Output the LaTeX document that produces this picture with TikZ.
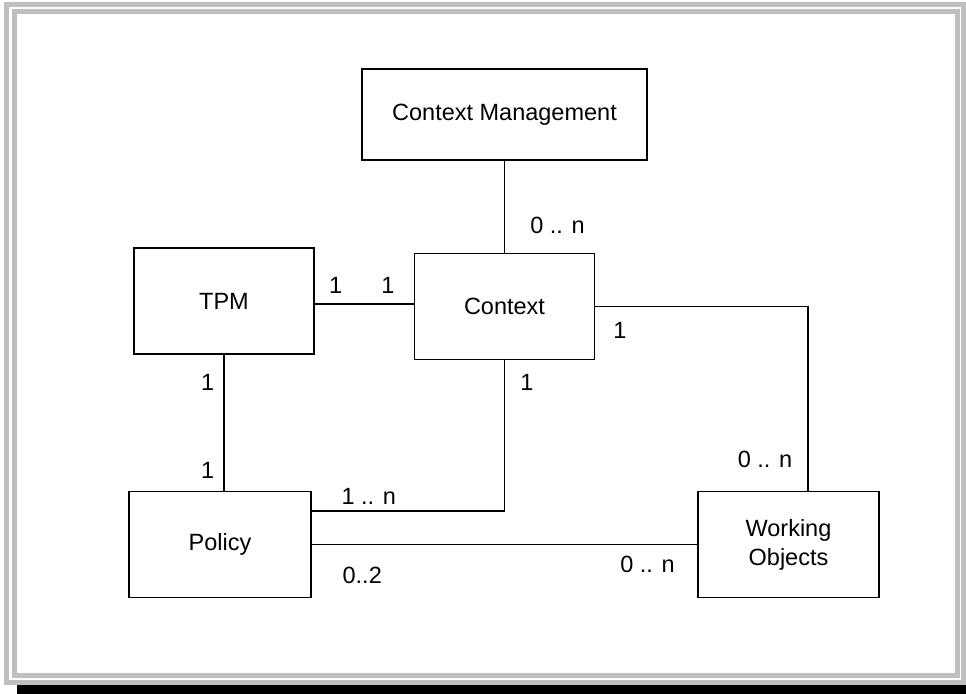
\documentclass[tikz,border=0pt]{standalone}
\usepackage{fontspec}
\setmainfont{Liberation Sans}
\usepackage{tikz}
\tikzstyle{entity} = [rectangle, minimum width=90pt, minimum height=53pt, text centered, draw=black, line width=0.75pt, font=\fontsize{11.75}{14.5}\selectfont]
\tikzstyle{mult} = [inner sep=0pt, font=\fontsize{11.75}{14.5}\selectfont]
\tikzstyle{link} = [line width=0.75pt]
\tikzstyle{band} = [draw=black!25, line width=2.5pt]

\begin{document}
\begin{tikzpicture}[x=0.5pt, y=-0.5pt]
\useasboundingbox (0,0) rectangle (966,694);
\fill[white] (0,0) rectangle (966,694);
\draw [band] (6.5,4.5) rectangle (963.5,682.5);
\draw [band] (14.5,11.5) rectangle (957.5,675.5);
\fill[black] (17,685) rectangle (966,694);

\node (ctx_mgmt) [entity, minimum width=142.5pt, minimum height=45.5pt] at (504.5,114.5) {Context Management};
\node (context) [entity, node distance=96pt, below of=ctx_mgmt] {Context};
\node (tpm) [entity, node distance=140.25pt, left of=context, yshift=2.75pt] {TPM};
\node (policy) [entity, minimum width=91pt, node distance=121.75pt, below of=tpm, xshift=-2pt] {Policy};
\node (work_obj) [entity, minimum width=90.5pt, node distance=284.25pt, right of=policy, align=center] {Working\\Objects};

\draw [link] (ctx_mgmt.south) -- node[mult, pos=0.7, anchor=west, xshift=12.5pt] {0 .. n} (ctx_mgmt.south |- context.north);
\draw [link] ([yshift=-1.5pt]tpm.east) -- node[mult, pos=0.21, anchor=south, yshift=5pt] {1} node[mult, pos=0.74, anchor=south, yshift=5pt] {1} ([yshift=-1.5pt]tpm.east -| context.west);
\draw [link] (tpm.south) -- node[mult, pos=0.2, anchor=east, xshift=-4.5pt] {1} node[mult, pos=0.85, anchor=east, xshift=-4.5pt] {1} (tpm.south |- policy.north);
\draw [link] ([yshift=16.75pt]policy.east) -| node[mult, pos=0.148, anchor=south, yshift=3pt] {1 .. n} node[mult, pos=0.928, anchor=west, xshift=7.5pt] {1} (context.south);
\draw [link] (policy.east) -- node[mult, pos=0.131, anchor=north, yshift=-10.75pt] {0..2} node[mult, pos=0.871, anchor=north, yshift=-5.25pt] {0 .. n} (policy.east -| work_obj.west);
\draw [link] (context.east) -| node[mult, pos=0.058, anchor=north, yshift=-7.5pt] {1} node[mult, pos=0.916, anchor=east, xshift=-7.5pt] {0 .. n} ([xshift=9.75pt]work_obj.north);
\end{tikzpicture}
\end{document}
